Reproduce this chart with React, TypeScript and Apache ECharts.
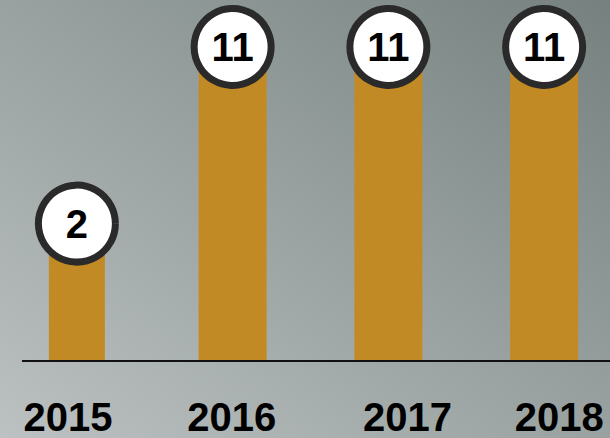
import React, { useEffect, useRef } from "react";
import * as echarts from "echarts";

const categories = ["2015", "2016", "2017", "2018"];
const values = [2, 11, 11, 11];
const wideBar = ["-", 11, 11, 11];
const narrowBar = [2, "-", "-", "-"];

export default function App() {
  const ref = useRef<HTMLDivElement>(null);
  useEffect(() => {
    const chart = echarts.init(ref.current!, null, { renderer: "svg" });
    const font = "'Liberation Sans', Arial, sans-serif";
    const lbl = { fontFamily: font, fontWeight: "bold", fontSize: 40, color: "#000" };
    chart.setOption({
      animation: false,
      backgroundColor: new echarts.graphic.LinearGradient(0, 1, 1, 0, [
        { offset: 0, color: "#bcc1c2" },
        { offset: 0.5, color: "#99a2a0" },
        { offset: 1, color: "#76817f" },
      ]),
      grid: { left: -4, width: 623, top: 47, bottom: 77, outerBoundsMode: "none", containLabel: false },
      xAxis: {
        type: "category",
        data: categories,
        axisLine: { show: false },
        axisTick: { show: false },
        axisLabel: {
          margin: 36,
          formatter: (v: string, i: number) => `{r${i}|${v}}`,
          rich: {
            r0: { ...lbl, padding: [0, 12, 0, 0] },
            r1: { ...lbl, padding: [0, 0, 0, 4] },
            r2: { ...lbl, padding: [0, 0, 0, 44] },
            r3: { ...lbl, padding: [0, 0, 0, 36] },
          },
        },
      },
      yAxis: {
        type: "value",
        min: -5,
        max: 11,
        startValue: -5,
        show: false,
        splitLine: { show: false },
      },
      graphic: [
        {
          type: "line",
          shape: { x1: 22, y1: 361, x2: 610, y2: 361 },
          style: { stroke: "#111", lineWidth: 2 },
          z: 10,
        },
      ],
      series: [
        {
          type: "bar",
          data: wideBar,
          barWidth: 68,
          barGap: "-91.18%",
          itemStyle: { color: "#c28a24" },
          z: 2,
        },
        {
          type: "bar",
          data: narrowBar,
          barWidth: 56,
          barGap: "-91.18%",
          itemStyle: { color: "#c28a24" },
          z: 2,
        },
        {
          type: "scatter",
          data: values,
          symbol: "circle",
          symbolSize: 77,
          symbolOffset: [3, 0],
          clip: false,
          itemStyle: { color: "#ffffff", borderColor: "#2a2a2a", borderWidth: 7, opacity: 1 },
          label: {
            show: true,
            position: "inside",
            fontFamily: font,
            fontWeight: "bold",
            fontSize: 40,
            color: "#000",
          },
          z: 5,
        },
      ],
    });
    return () => chart.dispose();
  }, []);
  return <div ref={ref} style={{ position: "fixed", left: 0, top: 0, width: 610, height: 438 }} />;
}
